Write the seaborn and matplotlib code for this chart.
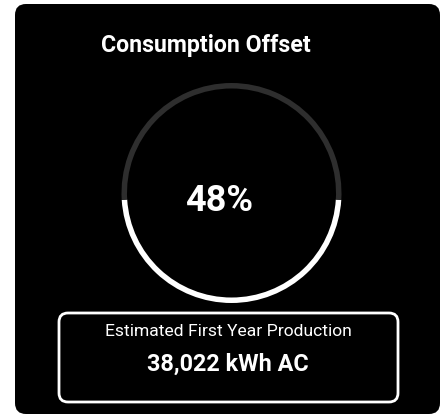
import matplotlib
matplotlib.use("Agg")
import matplotlib.pyplot as plt
from matplotlib.patches import FancyBboxPatch
import seaborn as sns

# ---- data ----
gauge_labels = ["Offset", "Remaining"]
gauge_values = [48, 52]
title_text = "Consumption Offset"
production_label = "Estimated First Year Production"
production_value = 38022
production_unit = "kWh AC"

sns.set_theme(style="white")
plt.rcParams['font.family'] = ['Roboto', 'DejaVu Sans']

W, H = 442, 415
fig = plt.figure(figsize=(W / 100, H / 100), dpi=100)
fig.patch.set_facecolor("white")

ax = fig.add_axes([0, 0, 1, 1])
ax.set_xlim(0, W)
ax.set_ylim(H, 0)
ax.axis("off")

# card
card = FancyBboxPatch((15, 4), 425, 410, boxstyle="round,pad=0,rounding_size=11",
                      facecolor="black", edgecolor="none")
ax.add_patch(card)

# title
ax.text(206, 52, title_text, color="white", fontsize=16.7, fontweight="bold",
        ha="center", va="baseline")

# gauge
cx, cy, R = 231.5, 193, 110
gax = fig.add_axes([(cx - R) / W, 1 - (cy + R) / H, 2 * R / W, 2 * R / H])
gax.set_facecolor("none")
colors = ["white", "#2e2e2e"]
start = 270 - gauge_values[0] / sum(gauge_values) * 360 / 2
gax.pie(gauge_values, colors=colors, startangle=start, counterclock=True,
        radius=1, wedgeprops=dict(width=5.5 / R, edgecolor="none"))
gax.set_xlim(-1, 1)
gax.set_ylim(-1, 1)
gax.axis("off")

ax.text(219, 211, f"{gauge_values[0]}%", color="white", fontsize=26,
        fontweight="bold", ha="center", va="baseline")

# production box
box = FancyBboxPatch((59, 313), 339, 89, boxstyle="round,pad=0,rounding_size=9",
                     facecolor="black", edgecolor="white", linewidth=2)
ax.add_patch(box)
ax.text(228, 336, production_label, color="white", fontsize=12.6,
        ha="center", va="baseline")
ax.text(228, 371, f"{production_value:,} {production_unit}", color="white",
        fontsize=16.8, fontweight="bold", ha="center", va="baseline")

fig.savefig("out.png", dpi=100, facecolor="white")
